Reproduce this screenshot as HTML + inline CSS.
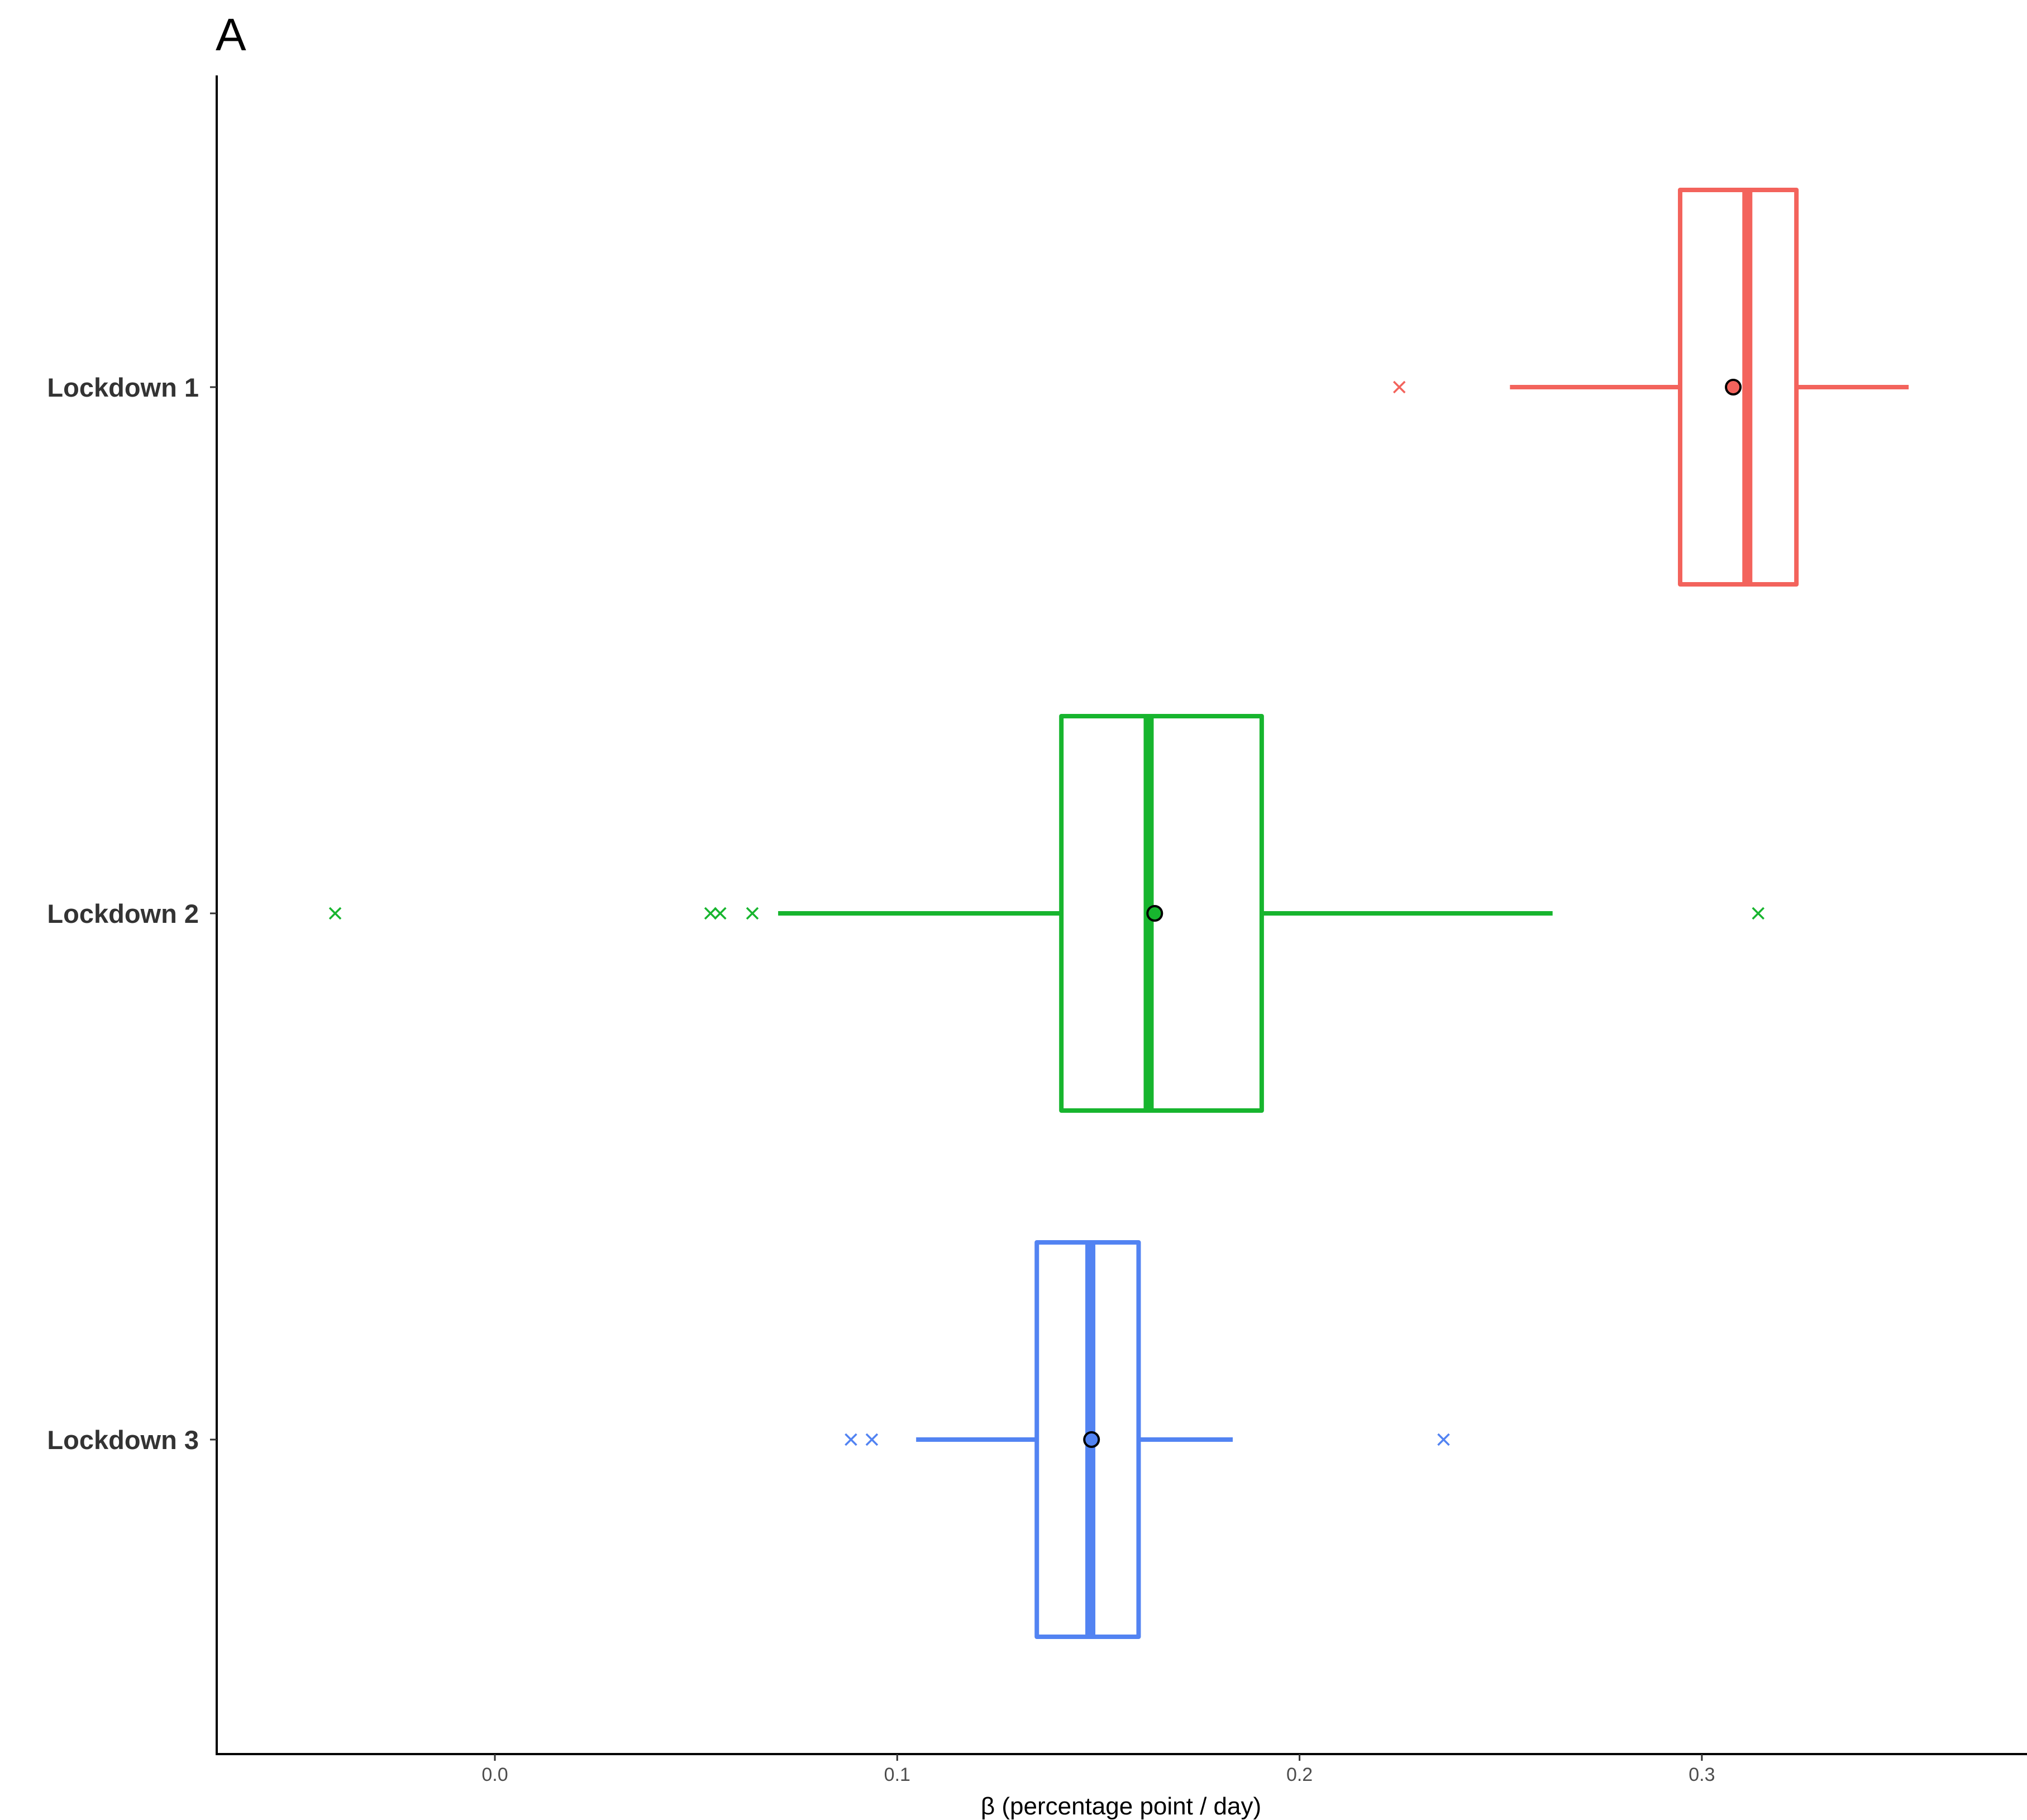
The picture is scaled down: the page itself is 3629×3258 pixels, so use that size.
<!DOCTYPE html>
<html><head><meta charset="utf-8"><style>html,body{margin:0;padding:0;background:#fff}svg{display:block}</style></head>
<body>
<svg id="chart" width="3629" height="3258" viewBox="0 0 3629 3258" xmlns="http://www.w3.org/2000/svg" font-family="Liberation Sans, sans-serif">
<text x="386" y="90" font-size="82" fill="#000">A</text>
<g id="plot"></g>
<line x1="388" y1="135" x2="388" y2="3142" stroke="#000" stroke-width="4"/>
<line x1="386" y1="3140" x2="3629" y2="3140" stroke="#000" stroke-width="4"/>
<text x="2007" y="3248" font-size="44" text-anchor="middle" fill="#000">β (percentage point / day)</text>
</svg>
<script>
const categories = ["Lockdown 1", "Lockdown 2", "Lockdown 3"];
const colors = ["#F3635C", "#17B52E", "#5283F2"];
const whiskerLow = [0.2523, 0.0704, 0.1047];
const q1 = [0.2946, 0.1408, 0.1347];
const median = [0.3113, 0.1625, 0.1480];
const q3 = [0.3235, 0.1906, 0.1600];
const whiskerHigh = [0.3514, 0.2629, 0.1834];
const means = [0.3078, 0.1640, 0.1483];
const outliers = [[0.2248], [-0.0397, 0.0536, 0.0560, 0.0640, 0.3140], [0.0885, 0.0937, 0.2358]];
const xTicks = [0.0, 0.1, 0.2, 0.3];
const xTickLabels = ["0.0", "0.1", "0.2", "0.3"];

const NS = "http://www.w3.org/2000/svg";
const svg = document.getElementById("chart");
const g = document.getElementById("plot");
const xS = v => 886 + v * 7203;
const yS = i => 693 + i * 942;
const half = 353;
function mk(tag, attrs, parent) {
  const e = document.createElementNS(NS, tag);
  for (const k in attrs) e.setAttribute(k, attrs[k]);
  (parent || g).appendChild(e);
  return e;
}
xTicks.forEach((t, i) => {
  const tk = mk("line", {x1: xS(t), x2: xS(t), y1: 3140, y2: 3152, stroke: "#333", "stroke-width": 3}, svg);
  
  
  const tl = mk("text", {x: xS(t), y: 3188, "font-size": 34, "text-anchor": "middle", fill: "#4d4d4d"}, svg);
  tl.textContent = xTickLabels[i];
  
  
});
categories.forEach((c, i) => {
  const y = yS(i), col = colors[i];
  const tk = mk("line", {x1: 376, x2: 388, y1: y, y2: y, stroke: "#333", "stroke-width": 3}, svg);
  
  
  const lb = mk("text", {x: 356, y: y + 17, "font-size": 47, "font-weight": "bold", "text-anchor": "end", fill: "#333"}, svg);
  lb.textContent = c;
  
  
  const w1 = mk("line", {x1: xS(whiskerLow[i]), x2: xS(q1[i]), y1: y, y2: y, stroke: col, "stroke-width": 8});
  
  
  const w2 = mk("line", {x1: xS(q3[i]), x2: xS(whiskerHigh[i]), y1: y, y2: y, stroke: col, "stroke-width": 8});
  
  
  const bx = mk("rect", {x: xS(q1[i]), y: y - half, width: xS(q3[i]) - xS(q1[i]), height: 2 * half, fill: "none", stroke: col, "stroke-width": 8, "stroke-linejoin": "round"});
  
  
  const md = mk("line", {x1: xS(median[i]), x2: xS(median[i]), y1: y - half, y2: y + half, stroke: col, "stroke-width": 18});
  
  
  outliers[i].forEach(v => {
    const x = xS(v), s = 10;
    const o = mk("path", {d: `M${x - s},${y - s}L${x + s},${y + s}M${x - s},${y + s}L${x + s},${y - s}`, stroke: col, "stroke-width": 3.5, fill: "none"});
    
    
  });
  const mn = mk("circle", {cx: xS(means[i]), cy: y, r: 13, fill: col, stroke: "#000", "stroke-width": 4});
  
  
});
</script>
</body></html>
